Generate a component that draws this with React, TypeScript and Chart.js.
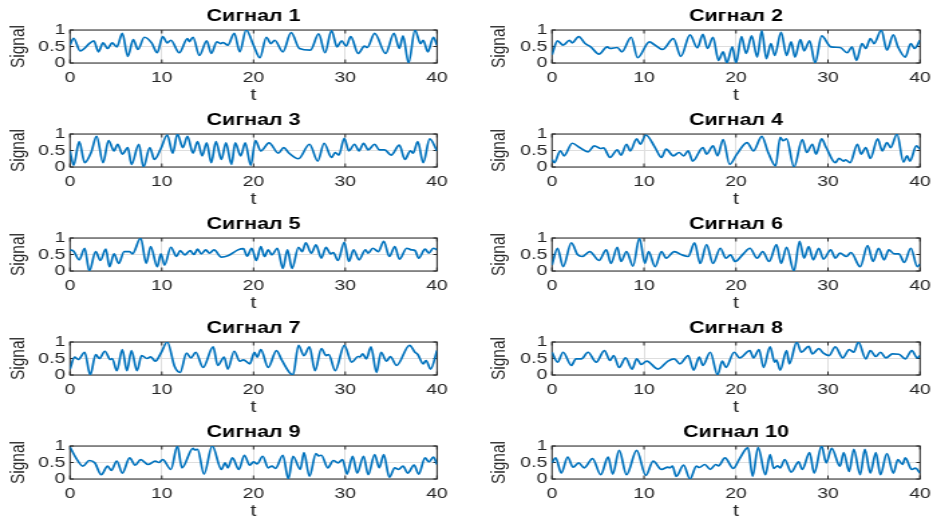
import { useEffect, useRef } from 'react';
import { Chart, registerables } from 'chart.js';

Chart.register(...registerables);

const X_TICKS = [0, 10, 20, 30, 40];
const Y_TICKS = [0, 0.5, 1];
const TITLES = ['Сигнал 1', 'Сигнал 2', 'Сигнал 3', 'Сигнал 4', 'Сигнал 5', 'Сигнал 6', 'Сигнал 7', 'Сигнал 8', 'Сигнал 9', 'Сигнал 10'];
const X_LABEL = 't';
const Y_LABEL = 'Signal';

const signal1: [number, number][] = [
  [0, 0.55], [0.4, 0.75], [1.1, 0.37], [2.2, 0.61], [2.6, 0.67], [3.1, 0.34], [3.6, 0.61], [4.1, 0.44], [4.6, 0.61], [5.1, 0.49],
  [5.7, 0.9], [6.3, 0.2], [6.9, 0.71], [7.4, 0.41], [8.1, 0.78], [8.9, 0.61], [9.5, 0.31], [10.1, 0.8], [10.6, 0.61], [11.0, 0.69],
  [11.9, 0.31], [12.8, 0.74], [13.0, 0.65], [13.4, 0.78], [14.1, 0.23], [14.9, 0.67], [15.4, 0.29], [16.0, 0.64], [16.4, 0.59], [16.7, 0.62],
  [17.2, 0.54], [17.9, 0.9], [18.5, 0.34], [19.2, 1.0], [20.0, 0.54], [20.7, 0.16], [21.4, 0.78], [21.9, 0.59], [22.3, 0.69], [23.2, 0.34],
  [24.1, 0.92], [25.0, 0.44], [26.2, 0.39], [27.1, 0.88], [27.8, 0.31], [28.5, 0.98], [29.1, 0.49], [29.6, 0.67], [30.1, 0.51], [30.6, 0.8],
  [31.4, 0.29], [32.1, 0.51], [32.4, 0.47], [33.2, 0.9], [34.4, 0.29], [35.3, 0.9], [35.9, 0.44], [36.3, 0.82], [36.9, 0.0], [37.6, 1.0],
  [38.2, 0.59], [38.5, 0.69], [39.0, 0.34], [39.6, 0.78], [40, 0.54],
];

const signal2: [number, number][] = [
  [0, 0.25], [0.6, 0.67], [1.2, 0.54], [1.9, 0.69], [2.2, 0.61], [2.9, 0.8], [3.6, 0.59], [4.2, 0.49], [5.1, 0.27], [6.0, 0.49],
  [6.3, 0.44], [7.1, 0.47], [7.6, 0.34], [8.6, 0.78], [9.3, 0.16], [10.6, 0.64], [11.2, 0.54], [12.0, 0.41], [13.2, 0.74], [14.0, 0.2],
  [15.0, 0.85], [15.8, 0.46], [16.4, 0.87], [16.9, 0.44], [17.5, 0.78], [18.1, 0.08], [18.6, 0.34], [19.0, 0.0], [19.6, 0.49], [20.0, 0.0],
  [20.6, 0.8], [21.1, 0.29], [21.7, 0.82], [22.3, 0.18], [22.8, 0.98], [23.3, 0.13], [23.8, 0.59], [24.2, 0.23], [24.9, 0.93], [25.5, 0.23],
  [26.0, 0.64], [26.4, 0.18], [27.0, 0.71], [27.4, 0.37], [28.0, 0.67], [28.6, 0.0], [29.3, 0.82], [30.3, 0.49], [31.3, 0.47], [32.1, 0.31],
  [32.6, 0.49], [33.1, 0.08], [33.7, 0.59], [34.1, 0.44], [34.6, 0.74], [35.0, 0.59], [35.8, 1.0], [36.4, 0.39], [37.1, 0.85], [37.6, 0.49],
  [38.4, 0.18], [39.0, 0.59], [39.4, 0.44], [40, 0.69],
];

const signal3: [number, number][] = [
  [0, 0.49], [0.4, 0.05], [1.0, 0.77], [1.6, 0.13], [2.3, 0.44], [2.9, 0.93], [3.6, 0.13], [4.2, 0.8], [4.8, 0.49], [5.2, 0.69],
  [5.7, 0.39], [6.3, 0.59], [6.7, 0.08], [7.5, 0.69], [8.0, 0.0], [8.7, 0.59], [9.2, 0.23], [9.9, 0.56], [10.6, 0.97], [11.2, 0.42],
  [11.7, 1.0], [12.3, 0.59], [12.8, 0.93], [13.4, 0.42], [13.9, 0.77], [14.4, 0.34], [14.9, 0.73], [15.4, 0.13], [15.9, 0.77], [16.5, 0.23],
  [17.0, 0.73], [17.6, 0.08], [18.0, 0.73], [18.6, 0.34], [19.1, 0.73], [19.7, 0.05], [20.2, 0.8], [20.8, 0.49], [21.7, 0.73], [22.7, 0.42],
  [23.3, 0.59], [23.8, 0.44], [24.9, 0.25], [26.1, 0.69], [27.0, 0.18], [27.7, 0.72], [28.5, 0.29], [28.9, 0.44], [29.3, 0.36], [29.9, 0.87],
  [30.4, 0.49], [31.0, 0.69], [31.5, 0.49], [32.0, 0.72], [32.5, 0.52], [33.2, 0.69], [33.7, 0.52], [34.3, 0.52], [35.0, 0.36], [35.9, 0.66],
  [36.5, 0.23], [37.1, 0.49], [37.4, 0.42], [37.9, 0.77], [38.5, 0.13], [39.2, 0.85], [40, 0.49],
];

const signal4: [number, number][] = [
  [0, 0.23], [0.25, 0.13], [0.9, 0.49], [1.3, 0.34], [2.2, 0.72], [3.0, 0.59], [3.9, 0.46], [4.6, 0.64], [5.3, 0.56], [5.6, 0.58],
  [6.3, 0.29], [7.1, 0.52], [7.5, 0.36], [8.1, 0.69], [8.5, 0.49], [9.2, 0.85], [9.6, 0.69], [10.2, 0.97], [11.2, 0.59], [11.9, 0.29],
  [12.4, 0.54], [13.2, 0.34], [13.8, 0.44], [14.3, 0.34], [14.8, 0.49], [15.3, 0.18], [16.4, 0.59], [16.8, 0.39], [17.5, 0.64], [18.0, 0.34],
  [18.6, 0.83], [19.3, 0.08], [20.1, 0.39], [21.2, 0.74], [21.9, 0.49], [22.8, 0.93], [23.5, 0.44], [24.3, 0.03], [24.8, 0.9], [25.1, 0.8],
  [25.5, 0.85], [26.3, 0.0], [27.2, 0.83], [27.7, 0.44], [28.3, 0.69], [28.7, 0.39], [29.3, 0.85], [29.8, 0.59], [30.8, 0.13], [31.2, 0.26],
  [31.7, 0.18], [31.9, 0.22], [32.4, 0.13], [33.2, 0.69], [33.6, 0.39], [34.1, 0.59], [34.6, 0.26], [35.4, 0.85], [35.9, 0.49], [36.4, 0.74],
  [36.8, 0.59], [37.5, 1.0], [38.2, 0.15], [38.6, 0.34], [38.9, 0.18], [39.6, 0.64], [40, 0.54],
];

const signal5: [number, number][] = [
  [0, 0.64], [0.4, 0.6], [1.0, 0.34], [1.6, 0.69], [2.1, 0.0], [2.8, 0.59], [3.3, 0.32], [3.9, 0.66], [4.3, 0.13], [4.8, 0.52],
  [5.3, 0.23], [5.9, 0.59], [6.5, 0.59], [6.8, 0.52], [7.7, 1.0], [8.3, 0.23], [8.8, 0.74], [9.5, 0.13], [9.9, 0.52], [10.3, 0.18],
  [11.0, 0.72], [11.6, 0.44], [12.0, 0.62], [12.5, 0.49], [13.1, 0.62], [13.5, 0.5], [13.9, 0.66], [14.3, 0.52], [14.8, 0.64], [15.2, 0.54],
  [15.7, 0.64], [16.5, 0.42], [17.2, 0.46], [18.3, 0.64], [18.9, 0.68], [19.3, 0.45], [19.8, 0.69], [20.3, 0.32], [20.8, 0.74], [21.2, 0.44],
  [21.6, 0.64], [22.0, 0.49], [22.6, 0.69], [23.2, 0.08], [23.7, 0.64], [24.2, 0.08], [24.9, 0.72], [25.3, 0.59], [25.7, 0.85], [26.3, 0.54],
  [26.8, 0.79], [27.4, 0.39], [27.9, 0.72], [28.4, 0.52], [28.7, 0.56], [29.2, 0.32], [29.9, 0.87], [30.4, 0.29], [30.9, 0.64], [31.5, 0.34],
  [32.2, 0.64], [32.5, 0.54], [33.0, 0.69], [33.6, 0.59], [34.2, 0.9], [34.8, 0.44], [35.4, 0.74], [35.9, 0.36], [36.7, 0.69], [37.2, 0.64],
  [37.6, 0.62], [38.0, 0.39], [38.7, 0.66], [39.1, 0.54], [39.6, 0.69], [40, 0.64],
];

const signal6: [number, number][] = [
  [0, 0.18], [0.6, 0.69], [1.2, 0.13], [2.1, 0.85], [2.8, 0.49], [3.3, 0.44], [4.1, 0.59], [5.1, 0.32], [5.9, 0.64], [6.4, 0.23],
  [7.1, 0.72], [7.5, 0.29], [8.1, 0.59], [8.8, 0.15], [9.5, 1.0], [10.1, 0.23], [10.5, 0.59], [11.2, 0.13], [11.9, 0.59], [12.4, 0.39],
  [13.3, 0.59], [14.1, 0.49], [14.8, 0.44], [15.5, 0.85], [16.1, 0.23], [16.8, 0.8], [17.5, 0.23], [18.3, 0.69], [18.9, 0.39], [19.4, 0.49],
  [19.9, 0.29], [20.8, 0.52], [21.5, 0.69], [22.3, 0.39], [22.9, 0.59], [23.6, 0.29], [24.4, 0.8], [24.9, 0.23], [25.5, 0.72], [26.3, 0.0],
  [26.9, 0.9], [27.4, 0.39], [27.9, 0.74], [28.4, 0.34], [29.0, 0.69], [29.5, 0.36], [30.3, 0.64], [30.8, 0.39], [31.3, 0.54], [32.0, 0.44],
  [32.5, 0.56], [33.5, 0.13], [34.3, 0.77], [34.9, 0.29], [35.5, 0.69], [36.1, 0.34], [36.6, 0.64], [37.2, 0.52], [37.7, 0.52], [38.3, 0.26],
  [39.0, 0.69], [39.7, 0.13], [40, 0.21],
];

const signal7: [number, number][] = [
  [0, 0.18], [0.5, 0.54], [0.9, 0.47], [1.6, 0.69], [2.2, 0.0], [2.8, 0.62], [3.2, 0.5], [3.8, 0.72], [4.4, 0.47], [4.6, 0.5],
  [5.1, 0.13], [5.7, 0.77], [6.2, 0.13], [6.7, 0.74], [7.3, 0.13], [7.8, 0.59], [8.4, 0.5], [8.8, 0.55], [9.3, 0.42], [9.9, 0.66],
  [10.6, 1.0], [11.4, 0.26], [12.0, 0.08], [12.7, 0.66], [13.2, 0.52], [13.7, 0.69], [14.5, 0.23], [15.6, 0.85], [16.1, 0.29], [16.8, 0.54],
  [17.2, 0.18], [17.9, 0.72], [18.5, 0.42], [18.9, 0.46], [19.6, 0.34], [20.1, 0.69], [20.4, 0.54], [20.8, 0.77], [21.6, 0.23], [22.5, 0.74],
  [23.1, 0.44], [24.3, 0.0], [24.9, 0.9], [25.5, 0.59], [26.1, 0.85], [26.7, 0.13], [27.4, 0.8], [27.9, 0.59], [28.2, 0.62], [28.9, 0.13],
  [29.9, 0.9], [30.7, 0.39], [31.4, 0.56], [31.6, 0.55], [31.9, 0.64], [32.3, 0.49], [32.8, 0.85], [33.4, 0.08], [33.9, 0.69], [34.5, 0.42],
  [34.9, 0.56], [35.6, 0.29], [37.0, 0.9], [37.6, 0.69], [37.9, 0.62], [38.5, 0.34], [38.8, 0.44], [39.3, 0.18], [40, 0.74],
];

const signal8: [number, number][] = [
  [0, 0.69], [0.6, 0.39], [1.2, 0.69], [2.1, 0.29], [2.6, 0.49], [3.2, 0.49], [3.9, 0.69], [4.8, 0.39], [5.7, 0.74], [6.3, 0.44],
  [6.7, 0.59], [7.3, 0.23], [8.0, 0.52], [8.7, 0.18], [9.2, 0.49], [9.7, 0.32], [10.3, 0.42], [11.5, 0.18], [12.6, 0.42], [13.3, 0.49],
  [13.9, 0.34], [14.8, 0.59], [15.4, 0.15], [16.0, 0.54], [16.4, 0.29], [17.2, 0.69], [18.0, 0.0], [18.5, 0.42], [18.9, 0.23], [19.8, 0.69],
  [20.4, 0.52], [21.5, 0.74], [21.9, 0.52], [22.5, 0.77], [23.0, 0.23], [23.7, 0.85], [24.2, 0.39], [24.4, 0.45], [24.8, 0.15], [25.5, 0.74],
  [25.8, 0.34], [26.6, 1.0], [27.1, 0.69], [27.9, 0.87], [28.3, 0.64], [29.0, 0.8], [29.5, 0.66], [30.1, 0.59], [30.8, 0.85], [31.6, 0.52],
  [32.3, 0.77], [32.8, 0.69], [33.3, 1.0], [34.1, 0.49], [34.6, 0.74], [35.2, 0.56], [35.7, 0.69], [36.3, 0.52], [37.0, 0.64], [37.7, 0.63],
  [38.4, 0.49], [39.1, 0.74], [39.7, 0.52], [40, 0.59],
];

const signal9: [number, number][] = [
  [0, 0.97], [0.65, 0.64], [1.4, 0.39], [2.1, 0.56], [2.7, 0.49], [3.4, 0.13], [4.1, 0.39], [4.5, 0.26], [5.1, 0.54], [5.7, 0.18],
  [6.5, 0.64], [7.1, 0.42], [7.7, 0.59], [8.5, 0.44], [9.3, 0.54], [9.7, 0.5], [10.1, 0.59], [11.0, 0.29], [11.7, 1.0], [12.2, 0.34],
  [13.4, 0.93], [13.6, 0.88], [13.9, 0.9], [14.6, 0.15], [15.5, 1.0], [16.5, 0.29], [16.9, 0.49], [17.2, 0.34], [17.7, 0.64], [18.4, 0.29],
  [19.0, 0.72], [19.6, 0.42], [20.0, 0.52], [20.4, 0.46], [21.0, 0.69], [21.6, 0.34], [22.0, 0.39], [22.4, 0.32], [23.2, 0.72], [23.8, 0.0],
  [24.3, 0.69], [25.1, 0.29], [25.5, 0.8], [26.1, 0.08], [26.8, 0.77], [27.1, 0.7], [27.4, 0.72], [28.1, 0.34], [28.7, 0.56], [29.2, 0.49],
  [29.7, 0.59], [30.2, 0.15], [30.8, 0.69], [31.3, 0.18], [32.0, 0.69], [32.5, 0.13], [33.2, 0.74], [33.7, 0.34], [34.2, 0.74], [34.8, 0.05],
  [35.4, 0.34], [35.8, 0.29], [36.3, 0.39], [36.8, 0.18], [37.5, 0.42], [38.0, 0.15], [38.7, 0.64], [39.1, 0.52], [39.6, 0.66], [40, 0.44],
];

const signal10: [number, number][] = [
  [0, 0.49], [0.4, 0.64], [1.0, 0.18], [1.7, 0.66], [2.3, 0.36], [2.9, 0.49], [3.5, 0.34], [4.4, 0.62], [5.3, 0.13], [6.1, 0.66],
  [6.6, 0.15], [7.3, 0.87], [8.1, 0.13], [9.2, 0.87], [10.2, 0.11], [11.0, 0.54], [11.9, 0.29], [12.6, 0.36], [12.8, 0.34], [13.1, 0.39],
  [13.5, 0.08], [14.3, 0.42], [15.0, 0.0], [15.7, 0.39], [16.0, 0.35], [16.6, 0.44], [17.2, 0.29], [17.8, 0.44], [18.1, 0.4], [18.8, 0.64],
  [19.7, 0.32], [20.4, 0.62], [21.3, 0.95], [21.8, 0.08], [22.4, 0.96], [23.2, 0.13], [23.7, 0.74], [24.1, 0.32], [24.5, 0.4], [24.8, 0.34],
  [25.3, 0.59], [26.0, 0.21], [26.8, 0.52], [27.2, 0.29], [28.0, 0.8], [28.5, 0.18], [29.3, 1.0], [29.8, 0.49], [30.4, 0.93], [31.3, 0.39],
  [31.7, 0.8], [32.3, 0.23], [32.8, 0.9], [33.5, 0.13], [34.0, 0.9], [34.6, 0.18], [35.2, 0.8], [35.7, 0.13], [36.4, 0.77], [37.1, 0.18],
  [37.6, 0.59], [38.1, 0.44], [38.4, 0.64], [39.1, 0.29], [39.5, 0.33], [40, 0.18],
];

const SIGNALS = [signal1, signal2, signal3, signal4, signal5, signal6, signal7, signal8, signal9, signal10];

const FONT = '"Liberation Sans", Arial, Helvetica, sans-serif';
const ROW_H = 104;

// Column geometry in screen pixels; the canvas is drawn narrower and stretched horizontally
const COLS = [
  { canvasLeft: 0, cssW: 466, logicalW: 348, plotLeft: 70, plotRight: 437, yTitleX: 20 },
  { canvasLeft: 466, cssW: 467, logicalW: 349, plotLeft: 86, plotRight: 454, yTitleX: 35.5 },
];

const framePlugin = {
  id: 'matlabFrame',
  beforeDatasetsDraw(chart: any) {
    const { ctx, chartArea: a, scales } = chart;
    ctx.save();
    ctx.strokeStyle = '#262626';
    ctx.lineWidth = 1;
    ctx.strokeRect(a.left, a.top, a.right - a.left, a.bottom - a.top);
    ctx.beginPath();
    for (const v of X_TICKS) {
      const px = scales.x.getPixelForValue(v);
      ctx.moveTo(px, a.top);
      ctx.lineTo(px, a.top + 3.5);
      ctx.moveTo(px, a.bottom);
      ctx.lineTo(px, a.bottom - 3.5);
    }
    for (const v of Y_TICKS) {
      const py = scales.y.getPixelForValue(v);
      ctx.moveTo(a.left, py);
      ctx.lineTo(a.left + 2.8, py);
      ctx.moveTo(a.right, py);
      ctx.lineTo(a.right - 2.8, py);
    }
    ctx.stroke();
    ctx.restore();
  },
  afterDraw(chart: any, _args: any, opts: any) {
    const { ctx, chartArea: a } = chart;
    ctx.save();
    ctx.fillStyle = '#000000';
    ctx.font = `bold 16px ${FONT}`;
    ctx.textAlign = 'center';
    ctx.textBaseline = 'middle';
    ctx.fillText(opts.text, (a.left + a.right) / 2, 17);
    ctx.restore();
  },
};

function SubPlot({ index }: { index: number }) {
  const ref = useRef<HTMLCanvasElement>(null);
  const col = index % 2;
  const row = Math.floor(index / 2);
  const L = COLS[col];

  useEffect(() => {
    const canvas = ref.current;
    if (!canvas) return;
    const sx = L.cssW / L.logicalW;
    const areaLeft = L.plotLeft / sx;
    const rightPad = L.logicalW - L.plotRight / sx;
    const ySize = 15.5;
    const yTitlePad = L.yTitleX / sx - 0.093 * ySize - ySize / 2;
    const pts = SIGNALS[index].map(([x, y]) => ({ x, y }));

    const chart = new Chart(canvas, {
      type: 'line',
      data: {
        datasets: [
          {
            data: pts,
            borderColor: '#0072BD',
            borderWidth: 1.7,
            pointRadius: 0,
            fill: false,
            cubicInterpolationMode: 'monotone',
          },
        ],
      },
      options: {
        responsive: false,
        animation: false,
        devicePixelRatio: 1,
        events: [],
        parsing: false,
        layout: { padding: { left: 0, right: rightPad, top: 30, bottom: 0 } },
        plugins: {
          legend: { display: false },
          tooltip: { enabled: false },
          title: { display: false },
          matlabFrame: { text: TITLES[index] },
        } as any,
        scales: {
          x: {
            type: 'linear',
            min: 0,
            max: 40,
            ticks: {
              stepSize: 10,
              autoSkip: false,
              maxRotation: 0,
              padding: 6,
              color: '#262626',
              font: { family: FONT, size: 14.5, lineHeight: 1.2 },
              callback: (v: any) => String(v),
            },
            afterBuildTicks: (s: any) => {
              s.ticks = X_TICKS.map((v) => ({ value: v }));
            },
            grid: { color: '#dedede', lineWidth: 1, drawTicks: false },
            border: { display: false },
            title: {
              display: true,
              text: X_LABEL,
              color: '#262626',
              font: { family: FONT, size: 16, lineHeight: 1 },
              padding: { top: 0, bottom: 0 },
            },
            afterFit: (s: any) => {
              s.height = ROW_H - 63;
              s.paddingLeft = 0;
              s.paddingRight = 0;
            },
          },
          y: {
            type: 'linear',
            min: 0,
            max: 1,
            ticks: {
              stepSize: 0.5,
              autoSkip: false,
              padding: 3.5,
              color: '#262626',
              font: { family: FONT, size: 14.5, lineHeight: 1.2 },
              callback: (v: any) => String(v),
            },
            afterBuildTicks: (s: any) => {
              s.ticks = Y_TICKS.map((v) => ({ value: v }));
            },
            grid: { color: '#dedede', lineWidth: 1, drawTicks: false },
            border: { display: false },
            title: {
              display: true,
              text: Y_LABEL,
              color: '#262626',
              font: { family: FONT, size: ySize, lineHeight: 1 },
              padding: { top: yTitlePad, bottom: 0 },
            },
            afterFit: (s: any) => {
              s.width = areaLeft;
              s.paddingTop = 0;
              s.paddingBottom = 0;
            },
          },
        },
      } as any,
      plugins: [framePlugin],
    });
    return () => chart.destroy();
  }, [index]);

  return (
    <canvas
      ref={ref}
      width={L.logicalW}
      height={ROW_H}
      style={{ position: 'absolute', left: L.canvasLeft, top: row * ROW_H, width: L.cssW, height: ROW_H }}
    />
  );
}

export default function App() {
  return (
    <div style={{ position: 'absolute', left: 0, top: 0, width: 933, height: 522, background: '#ffffff', overflow: 'hidden' }}>
      {SIGNALS.map((_, i) => (
        <SubPlot key={i} index={i} />
      ))}
    </div>
  );
}
